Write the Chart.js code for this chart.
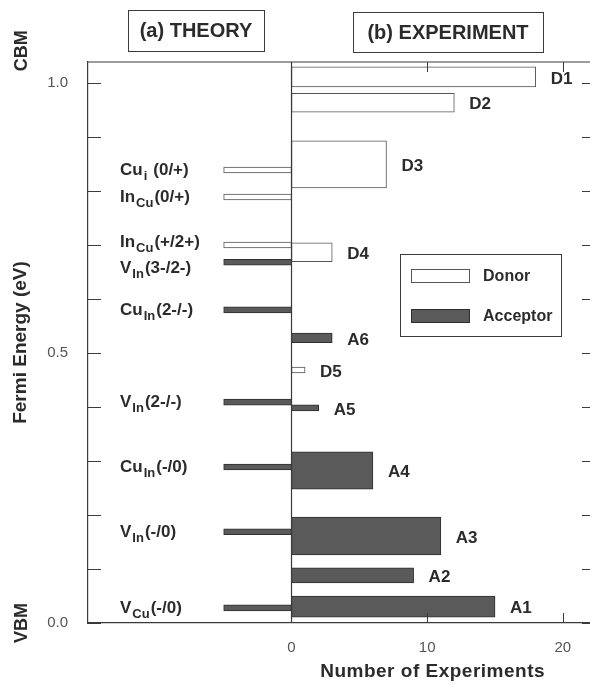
<!DOCTYPE html>
<html lang="en">
<head>
    <meta charset="UTF-8">
    <title>Defect levels - Theory vs Experiment</title>
    <script src="https://cdn.jsdelivr.net/npm/chart.js"></script>
    <style>
        body {
            margin: 0;
            background: #fff;
        }
        #wrap {
            width: 590px;
            height: 686px;
        }
    </style>
</head>
<body>

    <div id="wrap">
        <canvas id="chartLevels" width="590" height="686"></canvas>
    </div>

    <script>
        // Theory: calculated transition levels (eV above VBM)
        const theoryMain   = ['Cu', 'In', 'In', 'V', 'Cu', 'V', 'Cu', 'V', 'V'];
        const theorySub    = ['i', 'Cu', 'Cu', 'In', 'In', 'In', 'In', 'In', 'Cu'];
        const theoryCharge = ['(0/+)', '(0/+)', '(+/2+)', '(3-/2-)', '(2-/-)', '(2-/-)', '(-/0)', '(-/0)', '(-/0)'];
        const theoryEnergy = [0.839, 0.789, 0.700, 0.668, 0.580, 0.409, 0.289, 0.169, 0.028];
        const theoryType   = ['donor', 'donor', 'donor', 'acceptor', 'acceptor', 'acceptor', 'acceptor', 'acceptor', 'acceptor'];
        const theoryLength = [-5, -5, -5, -5, -5, -5, -5, -5, -5];

        // Experiment: reported levels, energy range and number of experiments
        const expLabels = ['D1', 'D2', 'D3', 'D4', 'A6', 'D5', 'A5', 'A4', 'A3', 'A2', 'A1'];
        const expLow    = [0.993, 0.946, 0.806, 0.669, 0.519, 0.463, 0.393, 0.248, 0.126, 0.074, 0.011];
        const expHigh   = [1.030, 0.981, 0.893, 0.704, 0.537, 0.474, 0.404, 0.317, 0.196, 0.102, 0.050];
        const expCount  = [18, 12, 7, 3, 3, 1, 2, 6, 11, 9, 15];
        const expType   = ['donor', 'donor', 'donor', 'donor', 'acceptor', 'donor', 'acceptor', 'acceptor', 'acceptor', 'acceptor', 'acceptor'];

        // axes
        const yLabelled = [0.0, 0.5, 1.0];
        const xLabelled = [0, 10, 20];
        const theoryBand = 0.011;   // drawn thickness of a theory level (eV)

        const fill = { donor: '#ffffff', acceptor: '#5a5a5a' };
        const edge = { donor: '#555555', acceptor: '#2e2e2e' };
        const ink = '#2b2b2b';
        const FONT = "'Liberation Sans', Arial, sans-serif";

        const datasets = [];
        theoryEnergy.forEach((e, i) => {
            datasets.push({
                kind: 'theory', idx: i, band: theoryBand,
                data: [{ x: [theoryLength[i], 0], y: e }],
                backgroundColor: fill[theoryType[i]],
                borderColor: edge[theoryType[i]],
                borderWidth: 1, borderSkipped: false, stack: 'all'
            });
        });
        expLabels.forEach((lab, i) => {
            datasets.push({
                kind: 'exp', idx: i, band: expHigh[i] - expLow[i],
                data: [{ x: [0, expCount[i]], y: (expLow[i] + expHigh[i]) / 2 }],
                backgroundColor: fill[expType[i]],
                borderColor: edge[expType[i]],
                borderWidth: 1, borderSkipped: false, stack: 'all'
            });
        });

        function near(list, v) {
            return list.some(t => Math.abs(t - v) < 1e-6);
        }

        // frame, inward ticks, labels, legend
        const decorations = {
            id: 'decorations',
            afterDraw(chart) {
                const ctx = chart.ctx;
                const x = chart.scales.x, y = chart.scales.y;
                const a = chart.chartArea;
                ctx.save();
                ctx.strokeStyle = '#3a3a3a';
                ctx.lineWidth = 1.2;

                // top line + zero line
                ctx.beginPath();
                ctx.moveTo(a.left, a.top); ctx.lineTo(a.right, a.top);
                const x0 = x.getPixelForValue(0);
                ctx.moveTo(x0, a.top); ctx.lineTo(x0, a.bottom);
                ctx.stroke();

                // inward ticks on the energy axis (left and right)
                ctx.lineWidth = 1;
                ctx.beginPath();
                y.ticks.forEach(t => {
                    if (t.value > 1.0001) return;
                    const py = Math.round(y.getPixelForValue(t.value)) + 0.5;
                    ctx.moveTo(a.left, py); ctx.lineTo(a.left + 13, py);
                    ctx.moveTo(a.right - 8, py); ctx.lineTo(a.right, py);
                });
                // inward ticks on the count axis (top and bottom)
                [10, 20].forEach(v => {
                    const px = Math.round(x.getPixelForValue(v)) + 0.5;
                    ctx.moveTo(px, a.bottom); ctx.lineTo(px, a.bottom - 10);
                    ctx.moveTo(px, a.top); ctx.lineTo(px, a.top + 10);
                });
                ctx.stroke();

                ctx.fillStyle = ink;

                // panel titles in boxes
                ctx.font = 'bold 20px ' + FONT;
                ctx.textAlign = 'center';
                ctx.textBaseline = 'middle';
                [['(a) THEORY', 128, 10, 136, 41], ['(b) EXPERIMENT', 353, 12, 190, 40]].forEach(b => {
                    ctx.strokeRect(b[1] + 0.5, b[2] + 0.5, b[3], b[4]);
                    ctx.fillText(b[0], b[1] + b[3] / 2, b[2] + b[4] / 2 + 1);
                });

                // rotated axis texts
                const rot = (txt, px, py, font) => {
                    ctx.save();
                    ctx.translate(px, py);
                    ctx.rotate(-Math.PI / 2);
                    ctx.font = font;
                    ctx.fillText(txt, 0, 0);
                    ctx.restore();
                };
                rot('CBM', 22, y.getPixelForValue(1.06), 'bold 18px ' + FONT);
                rot('VBM', 22, y.getPixelForValue(0.0), 'bold 18px ' + FONT);
                rot('Fermi Energy (eV)', 21, (a.top + a.bottom) / 2, 'bold 19px ' + FONT);

                // count axis title
                ctx.font = 'bold 19px ' + FONT;
                ctx.letterSpacing = '0.5px';
                ctx.fillText('Number of Experiments', x.getPixelForValue(10.4), 672);
                ctx.letterSpacing = '0px';

                // theory labels with subscripts; crowded neighbours are pushed apart
                ctx.textAlign = 'left';
                ctx.textBaseline = 'alphabetic';
                theoryEnergy.forEach((e, i) => {
                    let nudge = 0;
                    if (i > 0 && theoryEnergy[i - 1] - e < 0.04) nudge += 6;
                    if (i < theoryEnergy.length - 1 && e - theoryEnergy[i + 1] < 0.04) nudge -= 3;
                    let px = 120;
                    const py = y.getPixelForValue(e) + 5 + nudge;
                    ctx.font = 'bold 17px ' + FONT;
                    ctx.fillText(theoryMain[i], px, py);
                    px += ctx.measureText(theoryMain[i]).width + 1;
                    ctx.font = 'bold 13px ' + FONT;
                    ctx.fillText(theorySub[i], px, py + 5);
                    px += ctx.measureText(theorySub[i]).width + (theorySub[i] === 'i' ? 6 : 1);
                    ctx.font = 'bold 17px ' + FONT;
                    ctx.fillText(theoryCharge[i], px, py);
                });

                // experiment labels right of each bar
                ctx.font = 'bold 17px ' + FONT;
                ctx.textBaseline = 'middle';
                expLabels.forEach((lab, i) => {
                    const px = x.getPixelForValue(expCount[i]) + 15;
                    const py = y.getPixelForValue((expLow[i] + expHigh[i]) / 2) + 2;
                    ctx.fillText(lab, px, py);
                });

                // legend
                const lx = x.getPixelForValue(8.0), rx = x.getPixelForValue(19.9);
                const ty = y.getPixelForValue(0.683), by = y.getPixelForValue(0.531);
                ctx.strokeStyle = '#3a3a3a';
                ctx.strokeRect(Math.round(lx) + 0.5, Math.round(ty) + 0.5, Math.round(rx - lx), Math.round(by - ty));
                ctx.font = 'bold 16px ' + FONT;
                [['Donor', 'donor', 15], ['Acceptor', 'acceptor', 55]].forEach(r => {
                    ctx.fillStyle = fill[r[1]];
                    ctx.strokeStyle = edge[r[1]];
                    const sx = Math.round(lx) + 11.5, sy = Math.round(ty) + r[2] + 0.5;
                    ctx.fillRect(sx, sy, 58, 13);
                    ctx.strokeRect(sx, sy, 58, 13);
                    ctx.fillStyle = ink;
                    ctx.fillText(r[0], lx + 83, sy + 7);
                });
                ctx.restore();
            }
        };

        const chart = new Chart(document.getElementById('chartLevels').getContext('2d'), {
            type: 'bar',
            data: { datasets: datasets },
            options: {
                responsive: false,
                animation: false,
                indexAxis: 'y',
                layout: { padding: { top: 62, right: 0, left: 0, bottom: 0 } },
                plugins: {
                    legend: { display: false },
                    tooltip: { enabled: false }
                },
                scales: {
                    x: {
                        type: 'linear',
                        min: -15,
                        max: 22,
                        stacked: false,
                        grid: { display: false, drawTicks: false },
                        border: { display: true, color: '#3a3a3a', width: 1.2 },
                        ticks: {
                            stepSize: 10,
                            autoSkip: false,
                            maxRotation: 0,
                            padding: 16,
                            color: '#555',
                            font: { family: FONT, size: 15 },
                            callback: v => near(xLabelled, v) ? String(v) : ''
                        },
                        afterFit: s => { s.height = 63; s.paddingLeft = 0; s.paddingRight = 0; }
                    },
                    y: {
                        type: 'linear',
                        min: 0,
                        max: 1.039,
                        offset: false,
                        grid: { display: false, drawTicks: false },
                        border: { display: true, color: '#3a3a3a', width: 1.2 },
                        ticks: {
                            stepSize: 0.1,
                            autoSkip: false,
                            padding: 20,
                            color: '#555',
                            font: { family: FONT, size: 15 },
                            callback: v => near(yLabelled, v) ? v.toFixed(1) : ''
                        },
                        afterFit: s => { s.width = 88; s.paddingTop = 0; s.paddingBottom = 0; }
                    }
                }
            },
            plugins: [decorations]
        });

        // bar thickness follows each level's energy range on the y scale
        const pxPerEv = chart.scales.y.getPixelForValue(0) - chart.scales.y.getPixelForValue(1);
        chart.data.datasets.forEach(ds => {
            ds.barThickness = Math.max(1, ds.band * pxPerEv);
        });
        chart.update('none');
    </script>

</body>
</html>
